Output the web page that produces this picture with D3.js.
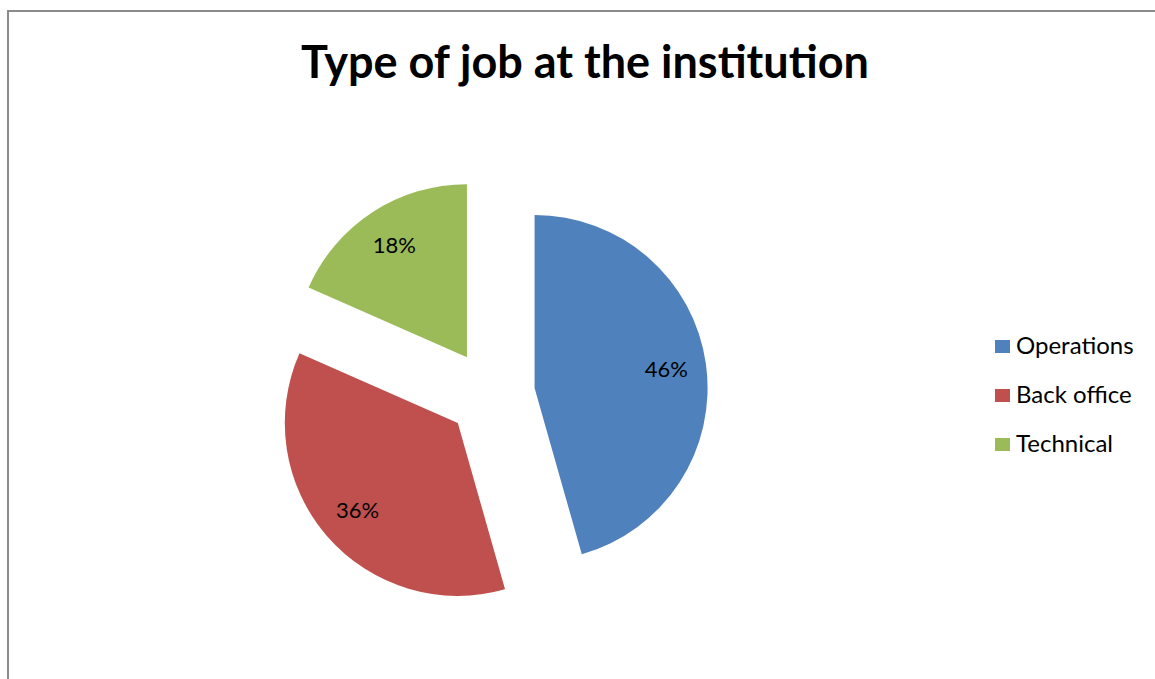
<!DOCTYPE html>
<html>
<head>
<meta charset="utf-8">
<script src="https://cdn.jsdelivr.net/npm/d3@7"></script>
<style>
  body { margin: 0; background: #fff; }
  svg { display: block; font-family: Lato, "Open Sans", sans-serif; }
</style>
</head>
<body>
<div id="chart"></div>
<script>
// shares; labels show the rounded percent
const categories = ["Operations", "Back office", "Technical"];
const values = [45.6, 36.0, 18.4];
const colors = ["#4F81BD", "#C0504D", "#9BBB59"];

(function() {
  const width = 1155;
  const height = 679;
  const cx = 491, cy = 394;
  const radius = 173;
  const explode = 44;

  const svg = d3.select("#chart")
    .append("svg")
    .attr("width", width)
    .attr("height", height);

  // chart border (runs off the right and bottom edges)
  svg.append("rect")
    .attr("x", 8)
    .attr("y", 11)
    .attr("width", width + 20)
    .attr("height", height + 20)
    .attr("fill", "none")
    .attr("stroke", "#8c8c8c")
    .attr("stroke-width", 2);

  svg.append("text")
    .attr("x", 585)
    .attr("y", 78)
    .attr("text-anchor", "middle")
    .attr("font-size", "45px")
    .attr("font-weight", "bold")
    .attr("fill", "#000")
    .text("Type of job at the institution");

  const data = categories.map((c, i) => ({ name: c, value: values[i], color: colors[i] }));

  const pie = d3.pie().sort(null).value(d => d.value);
  const arc = d3.arc().innerRadius(0).outerRadius(radius);
  const arcs = pie(data);
  const total = d3.sum(values);

  const g = svg.append("g")
    .attr("transform", `translate(${cx},${cy})`);

  const slice = g.selectAll("g.slice")
    .data(arcs)
    .join("g")
    .attr("class", "slice")
    .attr("transform", d => {
      const a = (d.startAngle + d.endAngle) / 2;
      return `translate(${Math.sin(a) * explode},${-Math.cos(a) * explode})`;
    });

  slice.append("path")
    .attr("d", arc)
    .attr("fill", d => d.data.color);

  slice.append("text")
    .attr("x", d => Math.sin((d.startAngle + d.endAngle) / 2) * 133)
    .attr("y", d => -Math.cos((d.startAngle + d.endAngle) / 2) * 133)
    .attr("dy", "0.35em")
    .attr("text-anchor", "middle")
    .attr("font-size", "22px")
    .attr("fill", "#000")
    .text(d => Math.round(d.data.value / total * 100) + "%");

  // Legend
  const legend = svg.append("g")
    .attr("transform", "translate(995,346)");

  const item = legend.selectAll("g")
    .data(data)
    .join("g")
    .attr("transform", (d, i) => `translate(0,${i * 49})`);

  item.append("rect")
    .attr("x", 0)
    .attr("y", -6)
    .attr("width", 15)
    .attr("height", 13)
    .attr("fill", d => d.color);

  item.append("text")
    .attr("x", 21)
    .attr("y", 0)
    .attr("dy", "0.35em")
    .attr("font-size", "24px")
    .attr("fill", "#000")
    .text(d => d.name);
})();
</script>
</body>
</html>
